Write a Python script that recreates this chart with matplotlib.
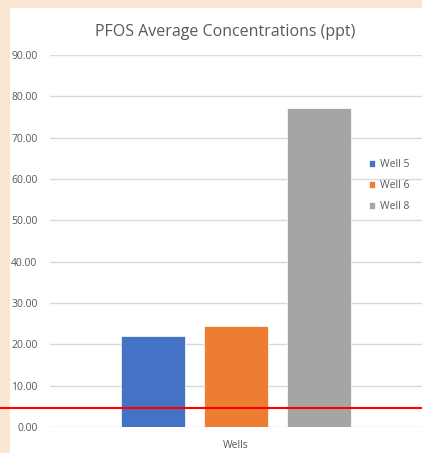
import matplotlib
matplotlib.use("Agg")
import matplotlib.pyplot as plt

plt.rcParams['font.family'] = ['Open Sans', 'DejaVu Sans']

title = "PFOS Average Concentrations (ppt)"
category = "Wells"
series = ["Well 5", "Well 6", "Well 8"]
values = [22.0, 24.4, 77.2]
colors = ["#4472C4", "#ED7D31", "#A5A5A5"]
yticks = [0, 10, 20, 30, 40, 50, 60, 70, 80, 90]
threshold = 4.5

W, H = 422, 453
fig = plt.figure(figsize=(W / 100, H / 100), dpi=100)
fig.patch.set_facecolor("#FBE5D3")
bg = fig.add_axes([10 / W, 0, 1 - 10 / W, 1 - 8 / H], zorder=0)
bg.set_facecolor("white")
bg.set_xticks([]); bg.set_yticks([])
for sp in bg.spines.values():
    sp.set_visible(False)

ax = fig.add_axes([50 / W, 1 - 427 / H, 372 / W, (427 - 55) / H], zorder=1)
ax.set_facecolor("none")
bw = 0.78
for i, (s, v, c) in enumerate(zip(series, values, colors)):
    ax.bar(i - 1, v, width=bw, color=c, label=s, edgecolor="white",
           linewidth=0.5, zorder=2)

ax.set_ylim(0, 90)
ax.set_xlim(-2.24, 2.24)
ax.set_yticks(yticks)
ax.set_yticklabels([f"{t:.2f}" for t in yticks], fontsize=7.5, color="#595959")
ax.set_xticks([0])
ax.set_xticklabels([category], fontsize=7.5, color="#595959")
ax.tick_params(length=0, pad=9)
ax.tick_params(axis="x", pad=9)
ax.grid(axis="y", color="#D9D9D9", linewidth=1, zorder=0)
ax.set_axisbelow(True)
for sp in ax.spines.values():
    sp.set_visible(False)

ax.axhline(threshold, xmin=-50 / 372, xmax=1.0, color="#FF0000",
           linewidth=1.5, clip_on=False, zorder=5)

fig.text(225 / W, 1 - 32 / H, title, ha="center", va="center",
         fontsize=11.5, color="#595959", zorder=3)

leg = ax.legend(loc="upper left", bbox_to_anchor=(364 / W, 1 - 154 / H),
                bbox_transform=fig.transFigure, frameon=False, fontsize=7.5,
                handlelength=0.6, handleheight=0.6, handletextpad=0.4,
                labelspacing=0.95, borderpad=0)
for t in leg.get_texts():
    t.set_color("#595959")

fig.savefig("out.png", dpi=100)
